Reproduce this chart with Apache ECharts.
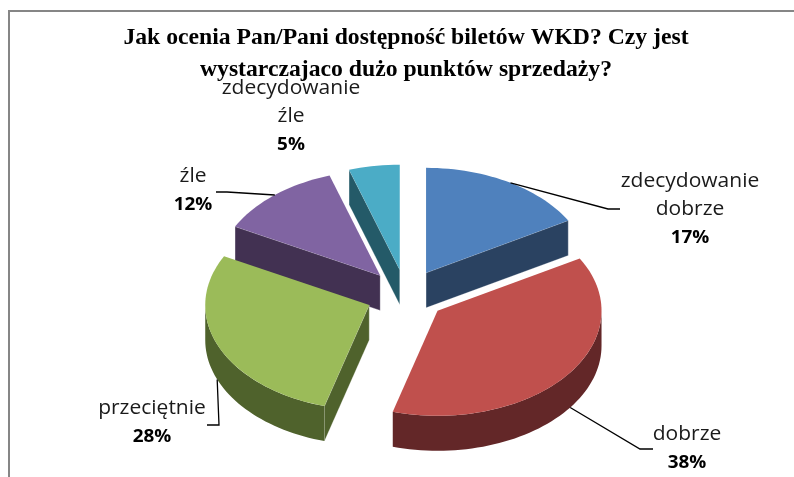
<!DOCTYPE html>
<html>
<head>
<meta charset="utf-8">
<style>
  html, body { margin: 0; padding: 0; background: #fff; }
  #main { width: 794px; height: 477px; }
</style>
<script src="https://cdn.jsdelivr.net/npm/echarts@6/dist/echarts.min.js"></script>
</head>
<body>
<div id="main"></div>
<script>
  // dane (katy wycinkow dokladniejsze niz etykiety)
  const titleLines = ['Jak ocenia Pan/Pani dostępność biletów WKD? Czy jest', 'wystarczajaco dużo punktów sprzedaży?'];
  const categories = ['zdecydowanie dobrze', 'dobrze', 'przeciętnie', 'źle', 'zdecydowanie źle'];
  const values = [16.7, 37.7, 28.3, 12.3, 5];

  const topColors = ['#4f81bd', '#c0504d', '#9bbb59', '#8064a2', '#4bacc6'];
  const sideColors = ['#2a4261', '#632728', '#4f622c', '#423152', '#245a68'];

  // geometria "3D" (elipsa + grubosc)
  const cx = 406, cy = 295, rx = 164, ry = 105, depth = 35, explode = 40;
  const labelPos = [[690, 167], [687, 420], [152, 394], [193, 162], [291, 74]];
  const leaderAngles = [31, 126, 248, 320, null];
  const leaderEnds = [[[608, 209], [620, 209]], [[640, 449], [653, 449]], [[219, 425], [207, 425]], [[227, 192], [216, 192]], null];
  const drawOrder = [4, 3, 0, 1, 2];

  const total = values.reduce((a, b) => a + b, 0);
  const starts = [];
  values.reduce((acc, v, i) => { starts[i] = acc; return acc + v; }, 0);

  function pt(c, deg, dz) {
    const t = deg * Math.PI / 180;
    return [c[0] + rx * Math.sin(t), c[1] - ry * Math.cos(t) + (dz || 0)];
  }

  function arc(c, from, to, dz) {
    const pts = [];
    const n = Math.max(2, Math.ceil(Math.abs(to - from) / 2));
    for (let k = 0; k <= n; k++) pts.push(pt(c, from + (to - from) * k / n, dz));
    return pts;
  }

  function sliceGroup(params, api) {
    const i = api.value(0);
    const from = api.value(2) / total * 360;
    const to = from + api.value(1) / total * 360;
    const mid = (from + to) / 2 * Math.PI / 180;
    const c = [cx + explode * Math.sin(mid), cy - explode * ry / rx * Math.cos(mid)];
    const apexLow = [c[0], c[1] + depth];
    const kids = [];
    const side = { fill: sideColors[i], stroke: 'rgba(255,255,255,0.45)', lineWidth: 0.6 };

    const sFrom = Math.sin(from * Math.PI / 180), sTo = Math.sin(to * Math.PI / 180);
    if (sFrom < -1e-6) {
      kids.push({ type: 'polygon', shape: { points: [c, pt(c, from), pt(c, from, depth), apexLow] }, style: side });
    }
    if (sTo > 1e-6) {
      kids.push({ type: 'polygon', shape: { points: [c, pt(c, to), pt(c, to, depth), apexLow] }, style: side });
    }
    const a0 = Math.max(from, 90), a1 = Math.min(to, 270);
    if (a1 > a0) {
      kids.push({
        type: 'polygon',
        shape: { points: arc(c, a0, a1, 0).concat(arc(c, a1, a0, depth)) },
        style: { fill: sideColors[i] }
      });
    }
    kids.push({
      type: 'polygon',
      shape: { points: [c].concat(arc(c, from, to, 0)) },
      style: { fill: topColors[i] }
    });

    // linia odniesienia
    if (leaderEnds[i]) {
      const ang = leaderAngles[i];
      const start = pt(c, ang, ang > 90 && ang < 270 ? depth : 0);
      kids.push({
        type: 'polyline', z2: 20,
        shape: { points: [start].concat(leaderEnds[i]) },
        style: { stroke: '#000', lineWidth: 1.3, fill: null }
      });
    }

    // etykieta
    const nameLines = categories[i].split(' ').map(s => '{n|' + s + '}');
    kids.push({
      type: 'text', z2: 21, x: labelPos[i][0], y: labelPos[i][1], scaleX: 1.05,
      style: {
        text: nameLines.concat('{v|' + Math.round(values[i]) + '%}').join('\n'),
        align: 'center', verticalAlign: 'top',
        rich: {
          n: { fontFamily: 'Open Sans', fontSize: 20, lineHeight: 28.5, fill: '#1a1a1a', align: 'center' },
          v: { fontFamily: 'Open Sans', fontSize: 18, fontWeight: 'bold', lineHeight: 28.5, fill: '#000', align: 'center' }
        }
      }
    });
    return { type: 'group', children: kids };
  }

  const chart = echarts.init(document.getElementById('main'), null, { renderer: 'canvas' });
  chart.setOption({
    animation: false,
    backgroundColor: '#fff',
    title: {
      text: titleLines.join('\n'),
      left: 401, top: 17, textAlign: 'center',
      textStyle: { fontFamily: 'Liberation Serif', fontWeight: 'bold', fontSize: 23.7, lineHeight: 32, color: '#000' }
    },
    graphic: [
      { type: 'polyline', silent: true, shape: { points: [[9, 477], [9, 11], [794, 11]] }, style: { stroke: '#868686', lineWidth: 2, fill: null } }
    ],
    series: [{
      type: 'custom',
      coordinateSystem: 'none',
      silent: true,
      renderItem: sliceGroup,
      data: drawOrder.map(i => [i, values[i], starts[i]])
    }]
  });
</script>
</body>
</html>
